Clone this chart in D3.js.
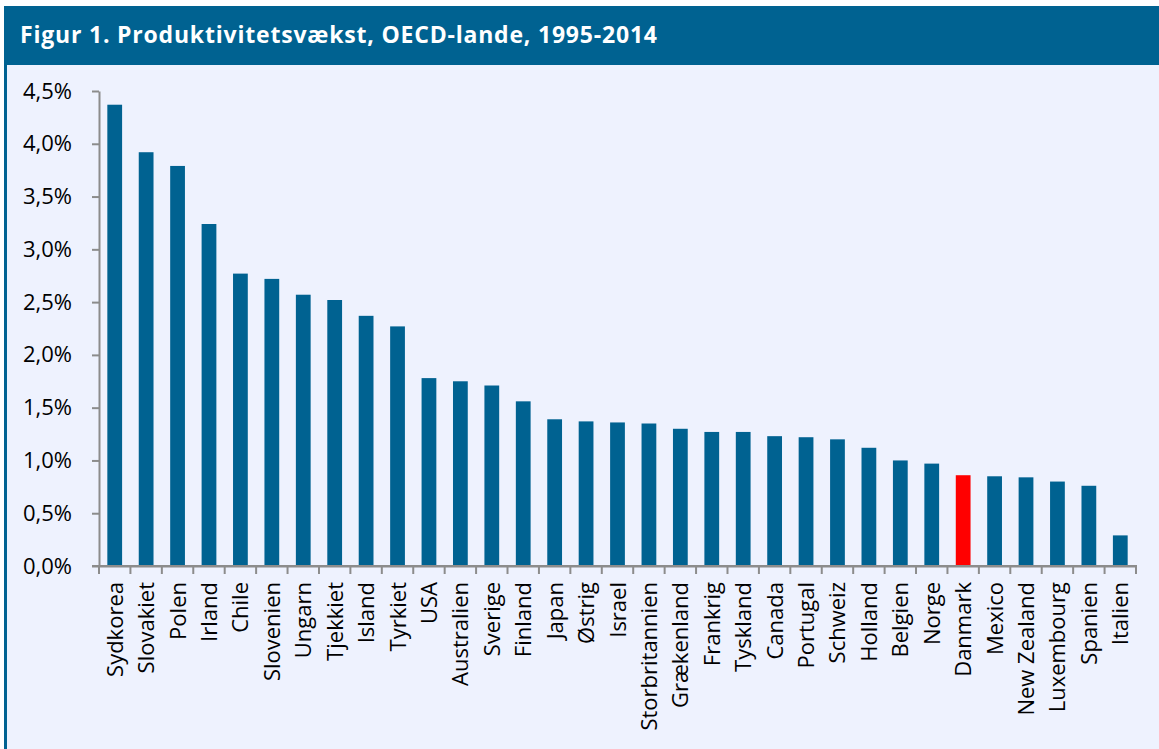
<!DOCTYPE html>
<html>
<head>
<meta charset="utf-8">
<script src="https://d3js.org/d3.v7.min.js"></script>
<style>
  body { margin: 0; background: #fff; }
  svg { display: block; }
</style>
</head>
<body>
<div id="chart"></div>
<script>
const countries = ["Sydkorea", "Slovakiet", "Polen", "Irland", "Chile", "Slovenien", "Ungarn", "Tjekkiet", "Island", "Tyrkiet",
  "USA", "Australien", "Sverige", "Finland", "Japan", "Østrig", "Israel", "Storbritannien", "Grækenland", "Frankrig",
  "Tyskland", "Canada", "Portugal", "Schweiz", "Holland", "Belgien", "Norge", "Danmark", "Mexico", "New Zealand",
  "Luxembourg", "Spanien", "Italien"];
const growth = [4.37, 3.92, 3.79, 3.24, 2.77, 2.72, 2.57, 2.52, 2.37, 2.27,
  1.78, 1.75, 1.71, 1.56, 1.39, 1.37, 1.36, 1.35, 1.30, 1.27,
  1.27, 1.23, 1.22, 1.20, 1.12, 1.00, 0.97, 0.86, 0.85, 0.84,
  0.80, 0.76, 0.29];
const yTicks = [0, 0.5, 1, 1.5, 2, 2.5, 3, 3.5, 4, 4.5];
const highlight = "Danmark";

const w = 1159, h = 749;
const plotLeft = 99, plotRight = 1136, plotTop = 91, plotBottom = 566;
const font = "'Open Sans', sans-serif";

const svg = d3.select("#chart").append("svg")
  .attr("width", w)
  .attr("height", h)
  .style("font-family", font);

// panel background + header
svg.append("rect").attr("x", 4).attr("y", 6).attr("width", w - 4).attr("height", h - 6).attr("fill", "#eef2fe");
svg.append("rect").attr("x", 4).attr("y", 6).attr("width", w - 4).attr("height", 59).attr("fill", "#006291");
svg.append("rect").attr("x", 4).attr("y", 6).attr("width", 3).attr("height", h - 6).attr("fill", "#006291");

svg.append("text")
  .attr("x", 20)
  .attr("y", 43)
  .attr("fill", "#fff")
  .style("font-size", "23px")
  .style("font-weight", "bold")
  .style("letter-spacing", "0.8px")
  .text("Figur 1. Produktivitetsvækst, OECD-lande, 1995-2014");

const x = d3.scaleBand().domain(countries).range([plotLeft, plotRight]).paddingInner(0.53).paddingOuter(0.265);
const y = d3.scaleLinear().domain([0, 4.5]).range([plotBottom, plotTop]);

svg.selectAll(".bar")
  .data(countries)
  .enter()
  .append("rect")
  .attr("class", "bar")
  .attr("x", d => x(d))
  .attr("y", (d, i) => y(growth[i]))
  .attr("width", x.bandwidth())
  .attr("height", (d, i) => y(0) - y(growth[i]))
  .attr("fill", d => d === highlight ? "#ff0000" : "#006291");

const fmt = d => d.toFixed(1).replace(".", ",") + "%";

const yAxis = svg.append("g")
  .attr("transform", "translate(" + plotLeft + ",0)")
  .call(d3.axisLeft(y).tickValues(yTicks).tickFormat(fmt).tickSize(7).tickSizeOuter(0).tickPadding(20));

const xb = d3.scaleBand().domain(countries).range([plotLeft, plotRight]);
const xAxis = svg.append("g")
  .attr("transform", "translate(0," + plotBottom + ")")
  .call(d3.axisBottom(xb).tickSize(0).tickSizeOuter(0).tickFormat(""));

// tick marks between categories
xAxis.selectAll(".sep")
  .data(d3.range(countries.length + 1))
  .enter()
  .append("line")
  .attr("class", "sep")
  .attr("x1", i => plotLeft + i * xb.step())
  .attr("x2", i => plotLeft + i * xb.step())
  .attr("y1", 0)
  .attr("y2", 8)
  .attr("stroke", "#8c8c8c")
  .attr("stroke-width", 2);

xAxis.append("line")
  .attr("x1", plotLeft - 7).attr("x2", plotRight + 1)
  .attr("y1", 0).attr("y2", 0)
  .attr("stroke", "#8c8c8c").attr("stroke-width", 2);

svg.selectAll(".domain").attr("stroke", "#8c8c8c").attr("stroke-width", 2);
yAxis.selectAll(".tick line").attr("stroke", "#8c8c8c").attr("stroke-width", 2);
yAxis.selectAll(".tick text").attr("fill", "#000").style("font-size", "22px").style("font-family", font);

svg.append("g")
  .selectAll("text")
  .data(countries)
  .enter()
  .append("text")
  .attr("transform", d => "translate(" + (xb(d) + xb.bandwidth() / 2 + 8) + "," + (plotBottom + 16) + ") rotate(-90)")
  .attr("text-anchor", "end")
  .style("font-size", "22px")
  .attr("fill", "#000")
  .text(d => d);
</script>
</body>
</html>
